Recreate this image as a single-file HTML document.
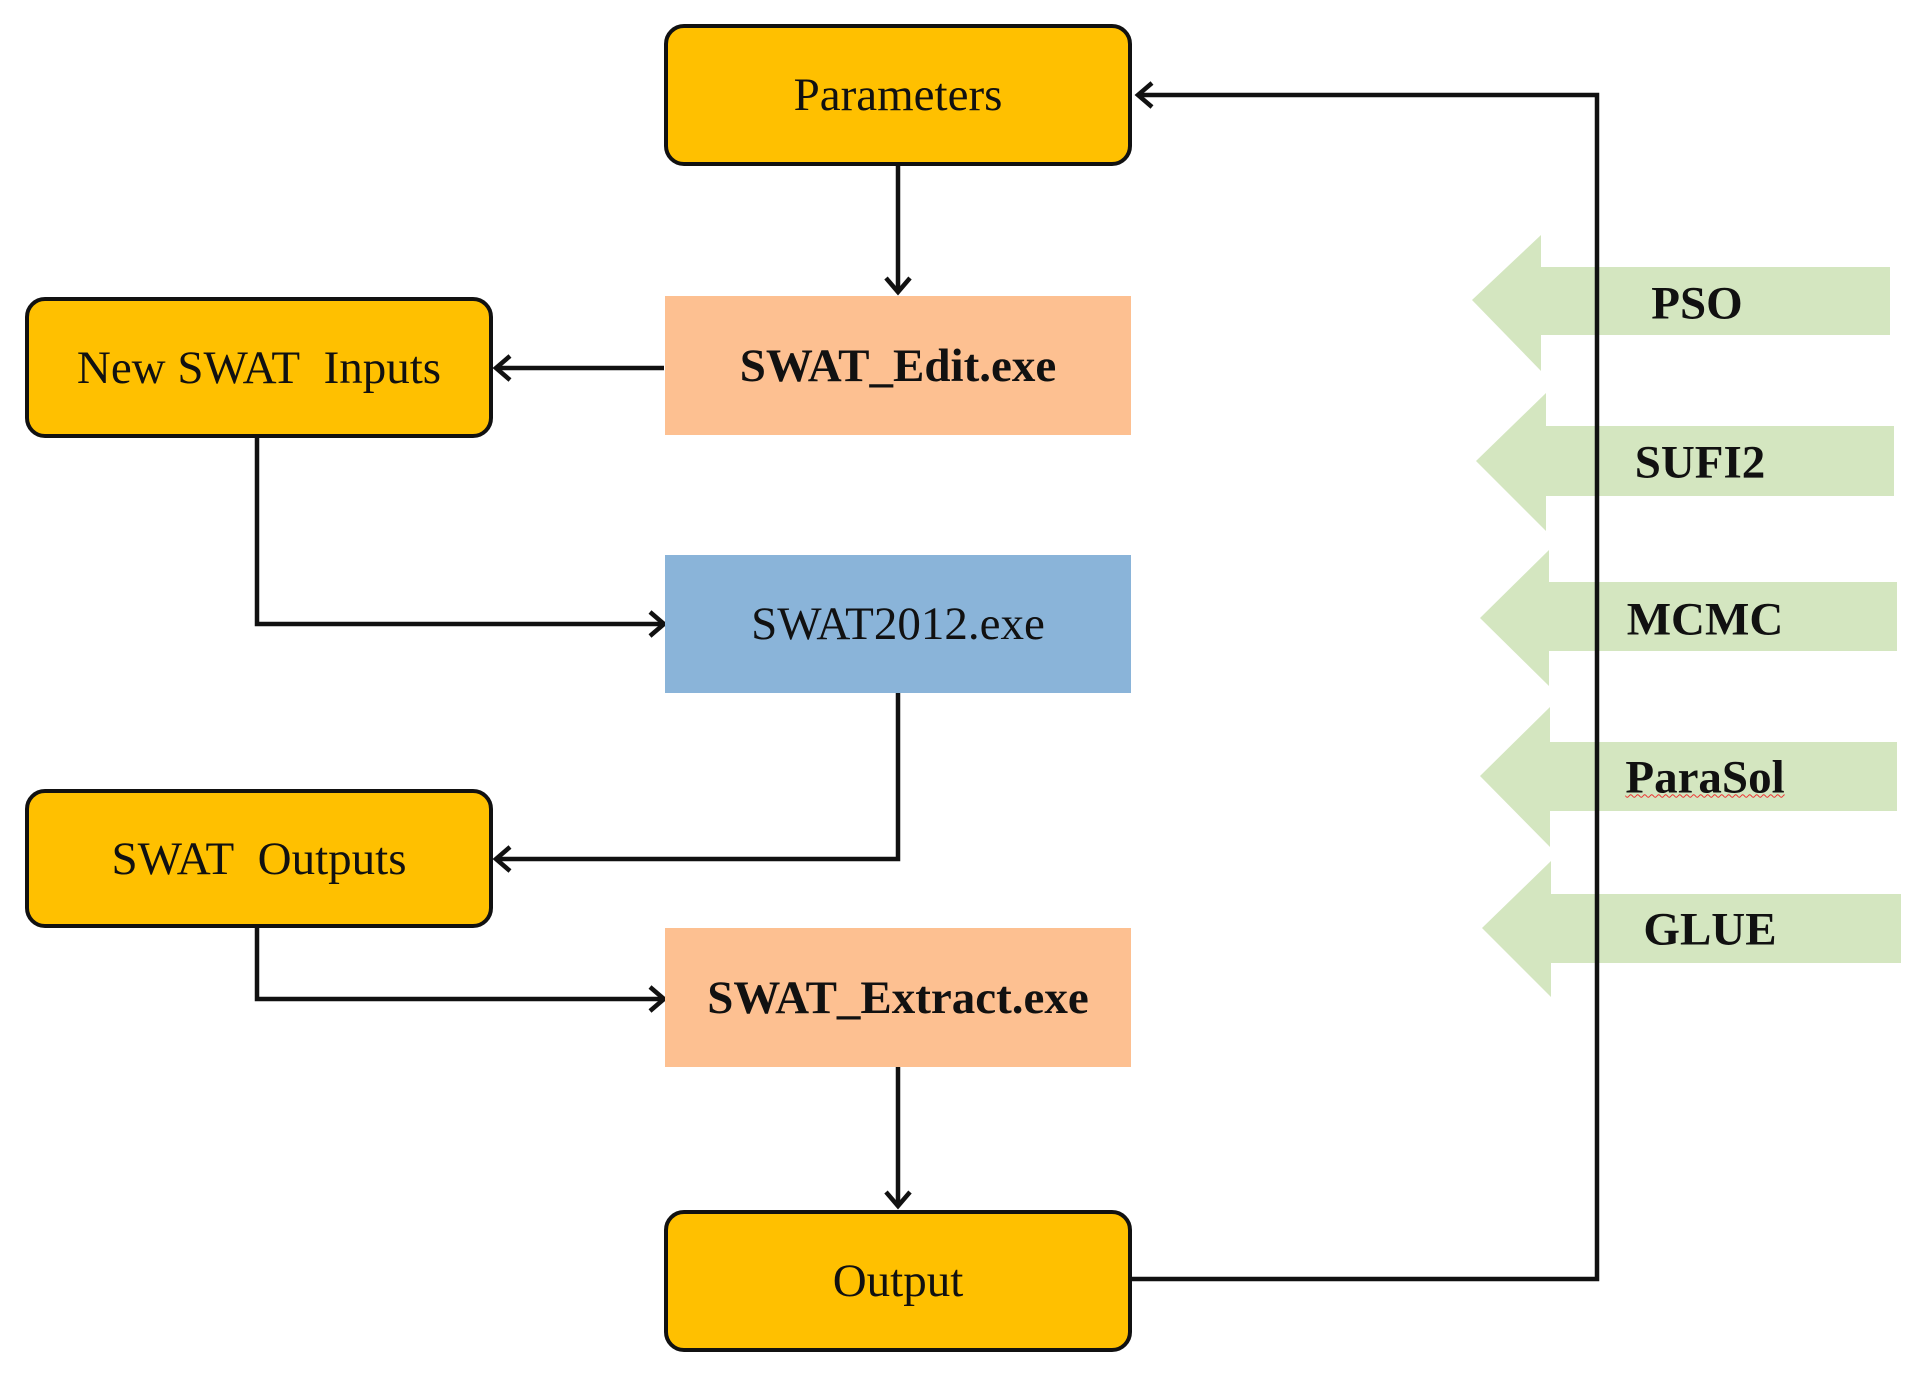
<!DOCTYPE html>
<html><head><style>
html,body{margin:0;padding:0;background:#fff;}
body{width:1928px;height:1374px;position:relative;overflow:hidden;font-family:"Liberation Serif",serif;}
.b{position:absolute;display:flex;align-items:center;justify-content:center;font-size:47px;color:#111;box-sizing:border-box;white-space:nowrap;}
.r{background:#ffc000;border:4px solid #111;border-radius:20px;}
.o{background:#fdc091;font-weight:bold;font-size:47px;}
.bl{background:#8ab4d9;}
.t{position:absolute;font-weight:bold;font-size:47px;color:#111;transform:translate(-50%,-50%);white-space:nowrap;line-height:1;}
</style></head><body>
<svg width="1928" height="1374" style="position:absolute;left:0;top:0">
<g fill="#d4e6c0">
<polygon points="1472,300 1541,235 1541,267 1890,267 1890,335 1541,335 1541,371"/>
<polygon points="1476,461 1546,393 1546,426 1894,426 1894,496 1546,496 1546,531"/>
<polygon points="1480,618 1549,550 1549,582 1897,582 1897,651 1549,651 1549,686"/>
<polygon points="1480,776 1550,707 1550,742 1897,742 1897,811 1550,811 1550,847"/>
<polygon points="1482,928 1551,861 1551,894 1901,894 1901,963 1551,963 1551,997"/>
</g>
<g stroke="#111" stroke-width="4.5" fill="none">
<polyline points="1132,1279 1597,1279 1597,95 1140,95"/>
<polyline points="1152,83 1138,95 1152,107"/>
<line x1="898" y1="166" x2="898" y2="292"/>
<polyline points="886,278 898,292 910,278"/>
<line x1="664" y1="368" x2="497" y2="368"/>
<polyline points="510,356 496,368 510,380"/>
<polyline points="257,438 257,624 664,624"/>
<polyline points="650,612 664,624 650,636"/>
<polyline points="898,693 898,859 497,859"/>
<polyline points="510,847 496,859 510,871"/>
<polyline points="257,928 257,999 664,999"/>
<polyline points="650,987 664,999 650,1011"/>
<line x1="898" y1="1067" x2="898" y2="1206"/>
<polyline points="886,1192 898,1206 910,1192"/>
</g>
</svg>
<div class="b r" style="left:664px;top:24px;width:468px;height:142px">Parameters</div>
<div class="b o" style="left:665px;top:296px;width:466px;height:139px">SWAT_Edit.exe</div>
<div class="b r" style="left:25px;top:297px;width:468px;height:141px">New SWAT&nbsp; Inputs</div>
<div class="b bl" style="left:665px;top:555px;width:466px;height:138px">SWAT2012.exe</div>
<div class="b r" style="left:25px;top:789px;width:468px;height:139px">SWAT&nbsp; Outputs</div>
<div class="b o" style="left:665px;top:928px;width:466px;height:139px">SWAT_Extract.exe</div>
<div class="b r" style="left:664px;top:1210px;width:468px;height:142px">Output</div>
<div class="t" style="left:1697px;top:304px">PSO</div>
<div class="t" style="left:1700px;top:463px">SUFI2</div>
<div class="t" style="left:1705px;top:620px">MCMC</div>
<div class="t" style="left:1705px;top:778px;text-decoration:underline wavy #e33;text-decoration-thickness:1px">ParaSol</div>
<div class="t" style="left:1710px;top:930px">GLUE</div>
</body></html>
